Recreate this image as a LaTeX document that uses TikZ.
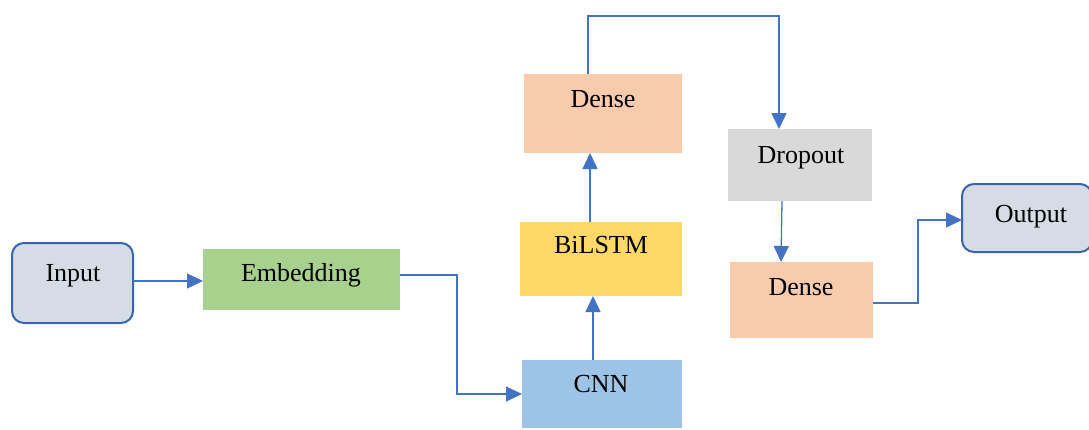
\documentclass[tikz,border=0pt]{standalone}
\usepackage{fontspec}
\setmainfont{Liberation Serif}
\usetikzlibrary{arrows.meta,calc}
\definecolor{lineblue}{HTML}{4472C4}
\definecolor{rborder}{HTML}{3B64AD}
\definecolor{rfill}{HTML}{D6DCE5}
\definecolor{cgreen}{HTML}{A9D18E}
\definecolor{cblue}{HTML}{9DC3E6}
\definecolor{cyellow}{HTML}{FFD966}
\definecolor{cpeach}{HTML}{F8CBAD}
\definecolor{cgray}{HTML}{D9D9D9}
\tikzset{
  box/.style={draw=none,inner sep=0pt,outer sep=0pt},
  rbox/.style={draw=rborder,line width=2pt,fill=rfill,rounded corners=12pt,inner sep=0pt,outer sep=0pt},
  lbl/.style={anchor=base,inner sep=0pt,font=\fontsize{26}{30}\selectfont},
  conn/.style={draw=lineblue,line width=1.3pt,-{Triangle[length=16pt,width=15pt]}}
}
\begin{document}
\begin{tikzpicture}[x=1pt,y=-1pt]
\useasboundingbox (0,0) rectangle (1089,429);
\begin{scope}
\clip (0,0) rectangle (1089,429);
\node[rbox,minimum width=121pt,minimum height=80pt] (input) at (72.5,283) {};
\node[rbox,minimum width=130pt,minimum height=68pt] (output) at (1027,218) {};
\end{scope}
\node[box,fill=cgreen,minimum width=197pt,minimum height=61pt] (emb) at (301.5,279.5) {};
\node[box,fill=cblue,minimum width=160pt,minimum height=68pt] (cnn) at (602,394) {};
\node[box,fill=cyellow,minimum width=162pt,minimum height=74pt] (bilstm) at (601,259) {};
\node[box,fill=cpeach,minimum width=158pt,minimum height=79pt] (dense1) at (603,113.5) {};
\node[box,fill=cgray,minimum width=144pt,minimum height=72pt] (drop) at (800,165) {};
\node[box,fill=cpeach,minimum width=143pt,minimum height=76pt] (dense2) at (801.5,300) {};

\node[lbl] (inputT) at (73,281) {Input};
\node[lbl] (embT) at (301,281) {Embedding};
\node[lbl] (cnnT) at (601,392) {CNN};
\node[lbl] (bilstmT) at (601,253) {BiLSTM};
\node[lbl] (dense1T) at (603,107) {Dense};
\node[lbl] (dropT) at (801,163) {Dropout};
\node[lbl] (dense2T) at (801,295) {Dense};
\node[lbl] (outputT) at (1031,222) {Output};

\coordinate (e1) at (457,275);
\coordinate (t1) at (588,16);
\coordinate (t2) at (779,16);
\coordinate (o1) at (918,303);

\draw[conn] (input.east |- 0,281) -- (emb.west |- 0,281);
\draw[conn] (emb.east |- e1) -- (e1) |- (cnn.west |- 0,394);
\draw[conn] (cnn.north -| 593,0) -- (bilstm.south -| 593,0);
\draw[conn] (bilstm.north -| 590,0) -- (dense1.south -| 590,0);
\draw[conn] (dense1.north -| t1) -- (t1) -- (t2) -- (drop.north -| t2);
\draw[conn] (drop.south -| 782,0) -- (dense2.north -| 781,0);
\draw[conn] (dense2.east |- o1) -- (o1) |- (output.west |- 0,220);
\end{tikzpicture}
\end{document}
